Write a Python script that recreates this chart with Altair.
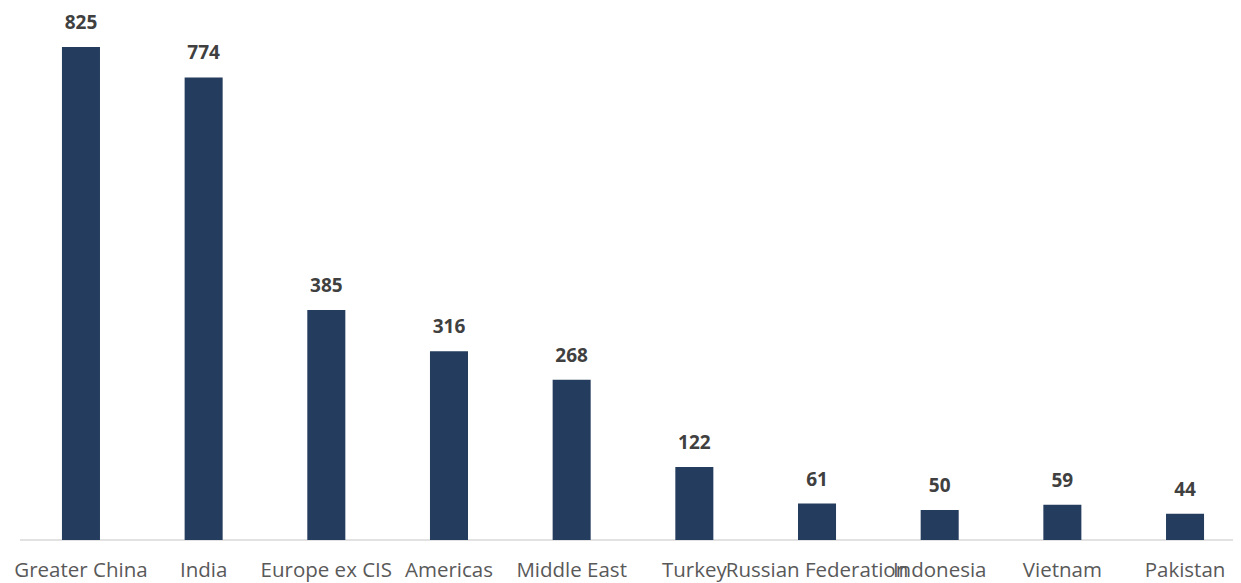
import altair as alt
import pandas as pd

regions = ["Greater China", "India", "Europe ex CIS", "Americas", "Middle East",
           "Turkey", "Russian Federation", "Indonesia", "Vietnam", "Pakistan"]
values = [825, 774, 385, 316, 268, 122, 61, 50, 59, 44]

df = pd.DataFrame({"region": regions, "value": values})

FONT = "Open Sans"
BAR = "#243C5D"

x = alt.X("region:N", sort=regions, title=None,
          scale=alt.Scale(paddingInner=0.69, paddingOuter=0.236),
          axis=alt.Axis(labelAngle=0, labelFont=FONT, labelFontSize=20.5,
                        labelColor="#595959", labelOverlap=False, labelLimit=0,
                        ticks=False, tickSize=0, domain=False, labelPadding=20,
                        labelBaseline="top"))
y = alt.Y("value:Q", title=None,
          scale=alt.Scale(domain=[0, 890.3], nice=False, zero=True),
          axis=None)

base = alt.Chart(df)

baseline = alt.Chart(pd.DataFrame({"v": [0]})).mark_rule(
    color="#d9d9d9", strokeWidth=1.5
).encode(x=alt.value(-13), x2=alt.value(1208), y=alt.value(532))

bars = base.mark_bar(color=BAR).encode(x=x, y=y)

labels = base.mark_text(
    font=FONT, fontSize=19, fontWeight="bold", color="#404040",
    baseline="middle", dy=-24
).encode(x=alt.X("region:N", sort=regions), y="value:Q", text="value:Q")

chart = alt.layer(baseline, bars, labels).properties(
    width=1200, height=532,
    autosize=alt.AutoSizeParams(type="none"),
    padding={"left": 25, "top": 0, "right": 0, "bottom": 50},
).configure_view(stroke=None)

chart.save("out.html", embed_options={"renderer": "svg", "actions": False})
